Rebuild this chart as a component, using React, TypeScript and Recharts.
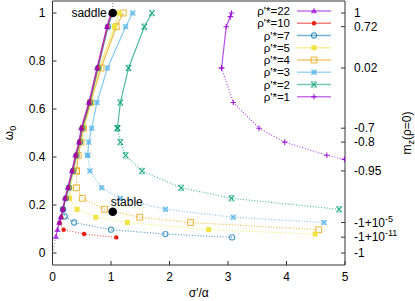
import React from "react";
import { ScatterChart, Scatter, XAxis, YAxis, ReferenceLine } from "recharts";

// gnuplot-ish palette, one entry per rho'* curve
const rhoValues = ["22", "10", "7", "5", "4", "3", "2", "1"];
const colors = ["#9400d3", "#e51e10", "#0072b2", "#f0e442", "#e69f00", "#56b4e9", "#009e73", "#9400d3"];
const markers = ["tri", "dot", "circ", "fsq", "osq", "star", "cross", "plus"];

// [sigma'/alpha, omega0] — solid = saddle branch, dotted = stable branch
const rho22Solid = [[1.0, 1.0], [0.93, 0.943], [0.76, 0.771], [0.62, 0.627], [0.49, 0.52], [0.45, 0.462], [0.39, 0.407], [0.33, 0.342], [0.26, 0.272], [0.21, 0.228], [0.175, 0.182], [0.14, 0.149], [0.115, 0.127], [0.085, 0.097], [0.058, 0.068]];
const rho10Solid = [[1.01, 1.0], [0.94, 0.943], [0.77, 0.771], [0.63, 0.627], [0.5, 0.52], [0.46, 0.462], [0.4, 0.407], [0.34, 0.342], [0.27, 0.272], [0.22, 0.228], [0.18, 0.182], [0.15, 0.149], [0.12, 0.125]];
const rho10Dotted = [[0.12, 0.125], [0.19, 0.097], [0.54, 0.079], [1.09, 0.065]];
const rho7Solid = [[1.03, 1.0], [0.95, 0.943], [0.78, 0.771], [0.64, 0.627], [0.51, 0.52], [0.47, 0.462], [0.41, 0.407], [0.35, 0.342], [0.28, 0.272], [0.23, 0.228], [0.18, 0.182]];
const rho7Dotted = [[0.18, 0.182], [0.21, 0.152], [0.37, 0.127], [1.0, 0.097], [1.93, 0.079], [3.07, 0.065]];
const rho5Solid = [[1.14, 1.0], [1.06, 0.943], [0.8, 0.771], [0.66, 0.627], [0.53, 0.52], [0.48, 0.462], [0.42, 0.407], [0.36, 0.342], [0.3, 0.272], [0.29, 0.228]];
const rho5Dotted = [[0.29, 0.228], [0.42, 0.182], [0.74, 0.149], [1.28, 0.127], [2.67, 0.097], [4.49, 0.079]];
const rho4Solid = [[1.21, 1.0], [1.09, 0.943], [0.83, 0.771], [0.65, 0.627], [0.53, 0.52], [0.49, 0.462], [0.44, 0.407], [0.41, 0.342]];
const rho4Dotted = [[0.41, 0.342], [0.41, 0.272], [0.51, 0.228], [0.89, 0.182], [1.49, 0.149], [2.36, 0.127], [4.55, 0.097]];
const rho3Solid = [[1.37, 1.0], [1.25, 0.943], [0.94, 0.771], [0.76, 0.627], [0.67, 0.52], [0.62, 0.462], [0.6, 0.407]];
const rho3Dotted = [[0.6, 0.407], [0.64, 0.342], [0.84, 0.272], [1.16, 0.228], [1.93, 0.182], [3.09, 0.149], [4.64, 0.127]];
const rho2Solid = [[1.7, 1.0], [1.57, 0.943], [1.3, 0.771], [1.16, 0.627], [1.11, 0.52]];
const rho2Dotted = [[1.11, 0.52], [1.16, 0.462], [1.25, 0.407], [1.53, 0.342], [2.2, 0.272], [3.06, 0.228], [4.9, 0.182]];
const rho1Solid = [[3.06, 1.0], [3.04, 0.985], [2.97, 0.943], [2.89, 0.771]];
const rho1Dotted = [[2.89, 0.771], [3.09, 0.627], [3.53, 0.52], [3.97, 0.462], [4.69, 0.407], [4.99, 0.39]];

const guideLow = [[0, 0], [0.058, 0.068]];
const guideHigh = [[1.03, 1.0], [1.03, 1.05]];
const fixedPoints = [
  { x: 1.03, y: 1.0, name: "saddle" },
  { x: 1.03, y: 0.172, name: "stable" },
];

const xTicks = [0, 1, 2, 3, 4, 5];
const yTicks = [0, 0.2, 0.4, 0.6, 0.8, 1];
// right axis: m_z(rho=0) labels placed at the matching omega0 heights
const mzPositions = [1.0, 0.943, 0.771, 0.52, 0.462, 0.342, 0.127, 0.066, 0];
const mzLabels = [["1"], ["0.72"], ["0.02"], ["-0.7"], ["-0.8"], ["-0.95"], ["-1+10", "-5"], ["-1+10", "-11"], ["-1"]];

const FONT = "'Liberation Sans', Arial, sans-serif";
const pts = (a: number[][]) => a.map(([x, y]) => ({ x, y }));

function Marker({ cx, cy, kind, color }: any) {
  const o = 0.7;
  switch (kind) {
    case "tri":
      return <polygon points={`${cx},${cy - 3.2} ${cx - 3.2},${cy + 2.3} ${cx + 3.2},${cy + 2.3}`} fill={color} fillOpacity={o} />;
    case "dot":
      return <circle cx={cx} cy={cy} r={2.2} fill={color} />;
    case "circ":
      return <circle cx={cx} cy={cy} r={2.6} fill="none" stroke={color} strokeOpacity={o} strokeWidth={1.1} />;
    case "fsq":
      return <rect x={cx - 2.5} y={cy - 2.5} width={5} height={5} fill={color} />;
    case "osq":
      return <rect x={cx - 2.9} y={cy - 2.9} width={5.8} height={5.8} fill="none" stroke={color} strokeOpacity={o} strokeWidth={1.1} />;
    case "star":
      return (
        <g stroke={color} strokeWidth={1}>
          <rect x={cx - 2.5} y={cy - 2.5} width={5} height={5} fill={color} fillOpacity={0.55} stroke="none" />
          <line x1={cx - 2.6} y1={cy - 2.6} x2={cx + 2.6} y2={cy + 2.6} />
          <line x1={cx - 2.6} y1={cy + 2.6} x2={cx + 2.6} y2={cy - 2.6} />
        </g>
      );
    case "cross":
      return (
        <g stroke={color} strokeWidth={1.1} strokeOpacity={0.85}>
          <line x1={cx - 2.7} y1={cy - 2.7} x2={cx + 2.7} y2={cy + 2.7} />
          <line x1={cx - 2.7} y1={cy + 2.7} x2={cx + 2.7} y2={cy - 2.7} />
          <line x1={cx - 2.7} y1={cy - 2.7} x2={cx + 2.7} y2={cy - 2.7} strokeOpacity={0.45} />
          <line x1={cx - 2.7} y1={cy + 2.7} x2={cx + 2.7} y2={cy + 2.7} strokeOpacity={0.45} />
        </g>
      );
    default:
      return (
        <g stroke={color} strokeWidth={1.1} strokeOpacity={0.85}>
          <line x1={cx - 2.8} y1={cy} x2={cx + 2.8} y2={cy} />
          <line x1={cx} y1={cy - 2.8} x2={cx} y2={cy + 2.8} />
        </g>
      );
  }
}

const series = [
  { i: 0, solid: rho22Solid, dotted: null },
  { i: 1, solid: rho10Solid, dotted: rho10Dotted },
  { i: 2, solid: rho7Solid, dotted: rho7Dotted },
  { i: 3, solid: rho5Solid, dotted: rho5Dotted },
  { i: 4, solid: rho4Solid, dotted: rho4Dotted },
  { i: 5, solid: rho3Solid, dotted: rho3Dotted },
  { i: 6, solid: rho2Solid, dotted: rho2Dotted },
  { i: 7, solid: rho1Solid, dotted: rho1Dotted },
];

function MzTick({ x, y, index }: any) {
  const [base, sup] = mzLabels[index] || [""];
  return (
    <text x={x} y={y} dy="0.35em" fontFamily={FONT} fontSize={12} fill="#000">
      {base}
      {sup && <tspan dy={-5} fontSize={9}>{sup}</tspan>}
    </text>
  );
}

function FixedPoint({ cx, cy, payload }: any) {
  const saddle = payload.name === "saddle";
  return (
    <g>
      <circle cx={cx} cy={cy} r={4.3} fill="#000" />
      <text x={saddle ? cx - 6 : cx - 2} y={saddle ? cy : cy - 10} dy="0.35em" textAnchor={saddle ? "end" : "start"}
        fontFamily={FONT} fontSize={12} fill="#000">{payload.name}</text>
    </g>
  );
}

function LegendBox() {
  return (
    <svg width={415} height={301} style={{ position: "absolute", left: 0, top: 0, pointerEvents: "none" }}>
      {rhoValues.map((r, i) => {
        const y = 11 + i * 12.25;
        return (
          <g key={r}>
            <text x={290} y={y} dy="0.35em" textAnchor="end" fontFamily={FONT} fontSize={11.5} fill="#000">{`ρ'*=${r}`}</text>
            <line x1={297} x2={331} y1={y} y2={y} stroke={colors[i]} strokeWidth={1.5} strokeOpacity={0.55} />
            <Marker cx={314} cy={y} kind={markers[i]} color={colors[i]} />
          </g>
        );
      })}
    </svg>
  );
}

export default function App() {
  const axisStroke = "#333";
  return (
    <div style={{ position: "absolute", left: 0, top: 0, width: 415, height: 301, background: "#fff" }}>
      <ScatterChart width={415} height={301} margin={{ top: 1, right: 0, bottom: 0, left: 0 }}>
        <XAxis type="number" dataKey="x" domain={[0, 5]} ticks={xTicks} allowDataOverflow
          height={36} stroke={axisStroke} tickSize={-4} tickMargin={11}
          tick={{ fill: "#000", fontSize: 12, fontFamily: FONT }}
          label={(p: any) => (
            <text x={p.viewBox.x + p.viewBox.width / 2} y={p.viewBox.y + 32} textAnchor="middle" fontFamily={FONT} fontSize={12} fill="#000">σ'/α</text>
          )} />
        <YAxis yAxisId="left" type="number" dataKey="y" domain={[-0.05, 1.05]} ticks={yTicks} allowDataOverflow
          width={52.5} stroke={axisStroke} tickSize={-4} tickMargin={11}
          tick={{ fill: "#000", fontSize: 12, fontFamily: FONT }}
          label={(p: any) => {
            const cx = 9, cy = p.viewBox.y + p.viewBox.height / 2;
            return (
              <text x={cx} y={cy} transform={`rotate(-90 ${cx} ${cy})`} textAnchor="middle" dy="0.35em" fontFamily={FONT} fontSize={12} fill="#000">
                ω<tspan dy={3} fontSize={9}>0</tspan>
              </text>
            );
          }} />
        <YAxis yAxisId="right" orientation="right" type="number" dataKey="y" domain={[-0.05, 1.05]} ticks={mzPositions} allowDataOverflow
          width={70} stroke={axisStroke} tickSize={-4} tickMargin={13} interval={0}
          tick={(p: any) => <MzTick {...p} />}
          label={(p: any) => {
            const cx = 407, cy = p.viewBox.y + p.viewBox.height / 2;
            return (
              <text x={cx} y={cy} transform={`rotate(-90 ${cx} ${cy})`} textAnchor="middle" dy="0.35em" fontFamily={FONT} fontSize={12} fill="#000">
                m<tspan dy={3} fontSize={9}>z</tspan><tspan dy={-3}>(ρ=0)</tspan>
              </text>
            );
          }} />
        <ReferenceLine yAxisId="left" y={1.05} stroke={axisStroke} ifOverflow="visible" />

        <Scatter yAxisId="right" data={pts(guideLow)} line={{ stroke: "#777", strokeDasharray: "1 2", strokeWidth: 1 }} lineType="joint" shape={() => <g />} isAnimationActive={false} />
        <Scatter yAxisId="right" data={pts(guideHigh)} line={{ stroke: "#777", strokeDasharray: "1 2", strokeWidth: 1 }} lineType="joint" shape={() => <g />} isAnimationActive={false} />

        {[...series].reverse().map((s) => (
          <React.Fragment key={s.i}>
            {s.dotted && (
              <Scatter yAxisId="left" data={pts(s.dotted)} lineType="joint"
                line={{ stroke: colors[s.i], strokeDasharray: "1 1.8", strokeWidth: 1.1, strokeOpacity: 0.75 }}
                shape={(p: any) => <Marker cx={p.cx} cy={p.cy} kind={markers[s.i]} color={colors[s.i]} />}
                isAnimationActive={false} />
            )}
            <Scatter yAxisId="left" data={pts(s.solid)} lineType="joint"
              line={{ stroke: colors[s.i], strokeWidth: 1.2, strokeOpacity: 0.7 }}
              shape={(p: any) => <Marker cx={p.cx} cy={p.cy} kind={markers[s.i]} color={colors[s.i]} />}
              isAnimationActive={false} />
          </React.Fragment>
        ))}

        <Scatter yAxisId="left" data={fixedPoints} shape={(p: any) => <FixedPoint {...p} />} isAnimationActive={false} />
      </ScatterChart>
      <LegendBox />
    </div>
  );
}
